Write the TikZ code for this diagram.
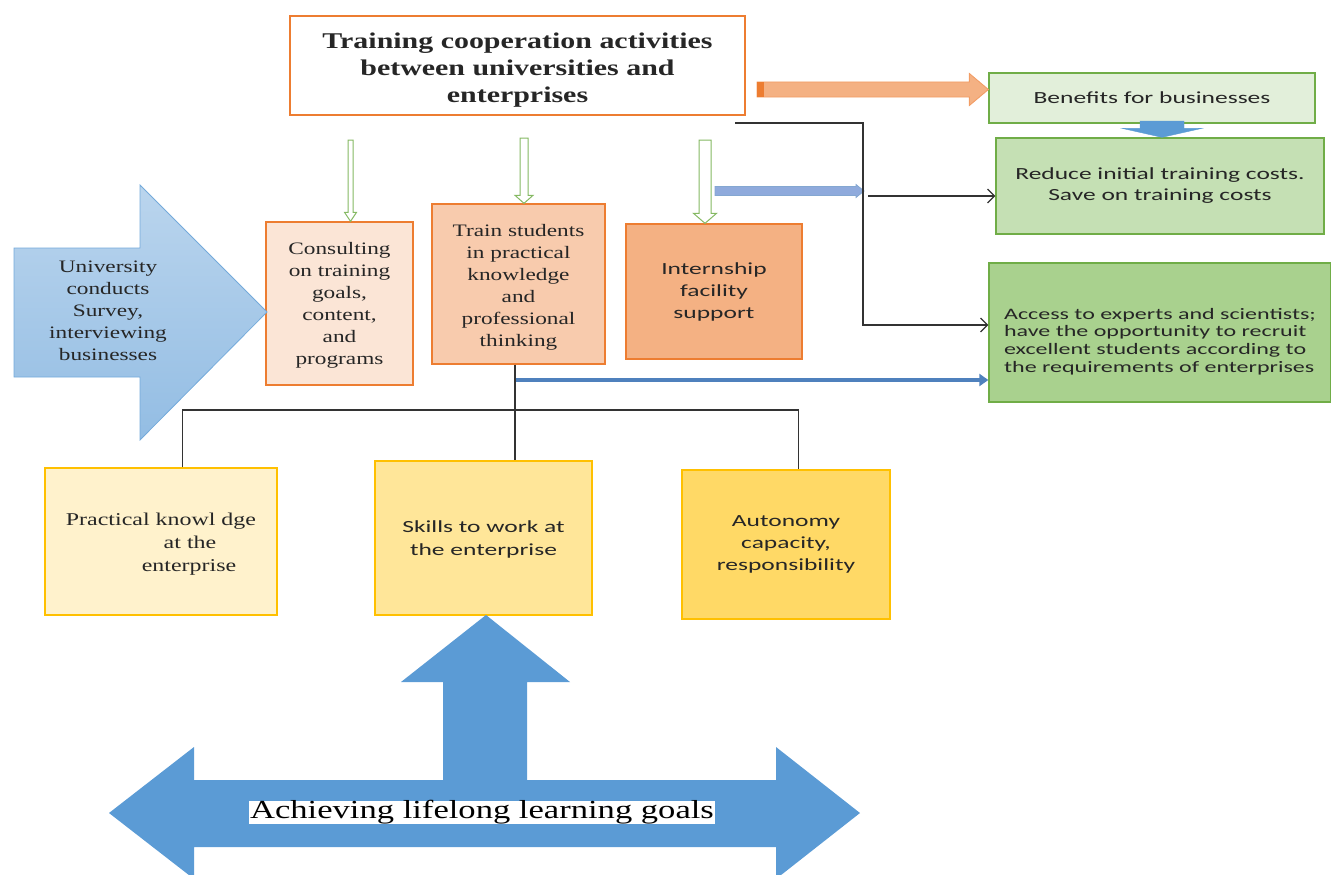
\documentclass[tikz,border=0pt]{standalone}
\usepackage{fontspec}
\setmainfont{Liberation Serif}
\newfontfamily\srf[FakeStretch=1.33]{Liberation Serif}
\newfontfamily\ssf[FakeStretch=1.5]{Carlito}
\usetikzlibrary{arrows.meta,calc}
\definecolor{orgB}{HTML}{ED7D31}
\definecolor{org1}{HTML}{FBE5D6}
\definecolor{org2}{HTML}{F8CBAD}
\definecolor{org3}{HTML}{F4B183}
\definecolor{grnB}{HTML}{70AD47}
\definecolor{grn1}{HTML}{E2EFDA}
\definecolor{grn2}{HTML}{C5E0B4}
\definecolor{grn3}{HTML}{A9D18E}
\definecolor{yelB}{HTML}{FFC000}
\definecolor{yel1}{HTML}{FFF2CC}
\definecolor{yel2}{HTML}{FFE699}
\definecolor{yel3}{HTML}{FFD966}
\definecolor{bluA}{HTML}{5B9BD5}
\definecolor{bluL}{HTML}{9DC3E6}
\definecolor{bluT}{HTML}{4F81BD}
\definecolor{bluP}{HTML}{8FAADC}
% block arrow pointing down: style, top, tip, shaft half width, head half width, head length
\newcommand{\blockdown}[6]{\draw[#1] ($(#2)+(-#4,0)$) -- ($(#3)+(-#4,-#6)$) -- ($(#3)+(-#5,-#6)$) -- (#3) -- ($(#3)+(#5,-#6)$) -- ($(#3)+(#4,-#6)$) -- ($(#2)+(#4,0)$) -- cycle;}
\begin{document}
\begin{tikzpicture}[x=1pt,y=-1pt,
  boxo/.style={draw=orgB, line width=1.3pt, inner sep=0pt, align=center, text=black!85},
  boxg/.style={draw=grnB, line width=1.3pt, inner sep=0pt, align=center, text=black!85},
  boxy/.style={draw=yelB, line width=1.3pt, inner sep=0pt, align=center, text=black!85},
  serift/.style={font=\srf\fontsize{17.5}{22}\selectfont},
  sanst/.style={font=\ssf\fontsize{17}{22}\selectfont},
  conn/.style={draw=black!80, line width=1.2pt},
  barb/.style={-{Straight Barb[length=7pt,width=14pt]}},
  garr/.style={draw=grnB!85, fill=white, line width=1pt},
  bdown/.style={fill=bluA, draw=bluA},
]
\useasboundingbox (0,0) rectangle (1331,875);

% ---------- nodes ----------
\node[boxo, fill=white, minimum width=455pt, minimum height=99pt,
      font=\srf\bfseries\fontsize{22.5}{27}\selectfont] (title) at (517.5,65.5)
  {\rule{0pt}{24pt}Training cooperation activities\\between universities and\\enterprises};
\node[boxg, fill=grn1, minimum width=326pt, minimum height=50pt, sanst] (benefits) at (1152,98)
  {Benefits for businesses};
\node[boxg, fill=grn2, minimum width=328pt, minimum height=96pt, font=\ssf\fontsize{17}{21}\selectfont] (reduce) at (1160,186)
  {Reduce initial training costs.\\Save on training costs};
\node[boxg, fill=grn3, minimum width=342pt, minimum height=139pt, align=left,
      font=\ssf\fontsize{16}{17.7}\selectfont] (access) at (1160,332.5)
  {\rule{0pt}{29pt}Access to experts and scientists;\\have the opportunity to recruit\\excellent students according to\\the requirements of enterprises};
\node[boxo, fill=org1, minimum width=147pt, minimum height=163pt, serift] (consult) at (339.5,303.5)
  {\rule{0pt}{16pt}Consulting\\on training\\goals,\\content,\\and\\programs};
\node[boxo, fill=org2, minimum width=173pt, minimum height=160pt, serift] (train) at (518.5,284)
  {\rule{0pt}{19pt}Train students\\in practical\\knowledge\\and\\professional\\thinking};
\node[boxo, fill=org3, minimum width=176pt, minimum height=135pt, sanst] (intern) at (714,291.5)
  {Internship\\facility\\support};
\node[boxy, fill=yel1, minimum width=232pt, minimum height=147pt, font=\srf\fontsize{18}{23}\selectfont] (pract) at (161,541.5)
  {\rule{0pt}{17pt}Practical knowl dge\\\hspace*{58pt}at the\\\hspace*{56pt}enterprise};
\node[boxy, fill=yel2, minimum width=217pt, minimum height=154pt, font=\ssf\fontsize{17}{23}\selectfont] (skills) at (483.5,538)
  {\rule{0pt}{15pt}Skills to work at\\the enterprise};
\node[boxy, fill=yel3, minimum width=208pt, minimum height=149pt, sanst] (auton) at (786,544.5)
  {Autonomy\\capacity,\\responsibility};

% ---------- left big arrow ----------
\coordinate (ua) at (267,312);
\draw[top color=bluL!70!white, bottom color=bluL!85!bluA, draw=bluA!85, line width=0.8pt]
  (14,248) -- (140,248) -- (140,185) -- (ua) -- (140,440) -- (140,377) -- (14,377) -- cycle;
\node[serift, align=center, text=black!85] (univ) at (108,311)
  {University\\conducts\\Survey,\\interviewing\\businesses};

% ---------- orange block arrow ----------
\coordinate (oa0) at (757,89.5);
\coordinate (oa1) at (benefits.west |- oa0);
\draw[fill=org3, draw=orgB!75, line width=0.9pt]
  ($(oa0)+(0,-7.5)$) -- ($(oa1)+(-19,-7.5)$) -- ($(oa1)+(-19,-16)$) -- (oa1)
  -- ($(oa1)+(-19,16)$) -- ($(oa1)+(-19,7.5)$) -- ($(oa0)+(0,7.5)$) -- cycle;
\fill[orgB] ($(oa0)+(0,-7.5)$) rectangle ($(oa0)+(7,7.5)$);

% ---------- small blue down arrow ----------
\coordinate (bd0) at (1162,121);
\coordinate (bd1) at (bd0 |- reduce.north);
\blockdown{bdown}{bd0}{bd1}{22}{40}{9}

% ---------- green hollow arrows ----------
\coordinate (g1a) at (350.5,140);
\coordinate (g1b) at (g1a |- consult.north);
\blockdown{garr}{g1a}{g1b}{2.5}{6}{9}
\coordinate (g2a) at (524,138);
\coordinate (g2b) at (g2a |- train.north);
\blockdown{garr}{g2a}{g2b}{4}{9}{8}
\coordinate (g3a) at (705,140);
\coordinate (g3b) at (g3a |- intern.north);
\blockdown{garr}{g3a}{g3b}{6}{11.5}{10}

% ---------- thin blue block arrow ----------
\coordinate (p0) at (715,191);
\coordinate (p1) at (864,191);
\draw[fill=bluP, draw=bluT!70, line width=0.8pt]
  ($(p0)+(0,-4.5)$) -- ($(p1)+(-8,-4.5)$) -- ($(p1)+(-8,-6.5)$) -- (p1)
  -- ($(p1)+(-8,6.5)$) -- ($(p1)+(-8,4.5)$) -- ($(p0)+(0,4.5)$) -- cycle;

% ---------- black connectors ----------
\coordinate (k0) at (735,123);
\coordinate (k1) at (863,123);
\coordinate (k2) at (863,325);
\draw[conn, barb] (k0) -- (k1) -- (k2) -- (access.west |- k2);
\coordinate (k3) at (868,196);
\draw[conn, barb] (k3) -- (reduce.west |- k3);

% ---------- blue arrow to access ----------
\coordinate (b0) at (515,380);
\draw[bluT, line width=4pt, -{Triangle[length=9pt,width=12pt]}] (b0) -- (access.west |- b0);

% ---------- tree ----------
\coordinate (tj) at (515,410);
\coordinate (tl) at (182.6,410);
\coordinate (tr) at (798.6,410);
\draw[conn] (train.south -| tj) -- (tj |- skills.north);
\draw[conn] (pract.north -| tl) -- (tl) -- (tr) -- (auton.north -| tr);

% ---------- bottom big arrow ----------
\begin{scope}
\clip (0,0) rectangle (1331,875);
\fill[bluA] (109,813) -- (194,747) -- (194,780) -- (443,780) -- (443,682) -- (401,682)
  -- (486,615) -- (570,682) -- (527,682) -- (527,780) -- (776,780) -- (776,747)
  -- (860,813) -- (776,879) -- (776,847) -- (194,847) -- (194,879) -- cycle;
\end{scope}
\node[fill=white, inner xsep=1pt, inner ysep=0pt, text=black,
      font=\srf\fontsize{26}{30}\selectfont] (goal) at (482,812.5)
  {Achieving lifelong learning goals};
\end{tikzpicture}
\end{document}
